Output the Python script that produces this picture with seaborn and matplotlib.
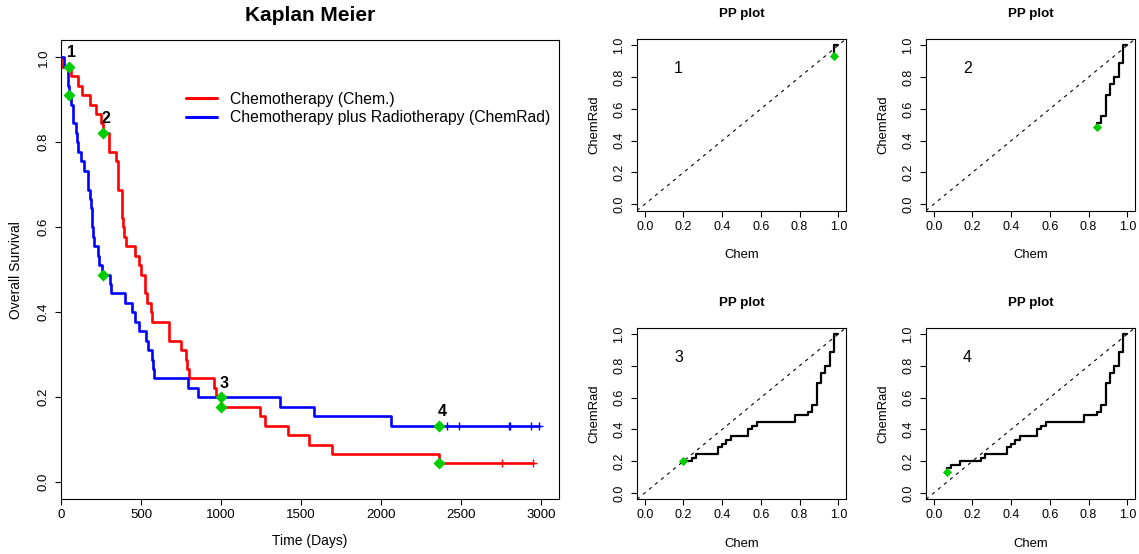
import numpy as np
import pandas as pd
import matplotlib
matplotlib.use("Agg")
import matplotlib.pyplot as plt
import seaborn as sns
from matplotlib.lines import Line2D

# ---------------- data ----------------
chem_times = [1, 63, 105, 129, 182, 216, 250, 262, 301, 301, 342, 354, 356, 358,
              380, 383, 383, 388, 394, 408, 460, 489, 499, 523, 524, 535, 562,
              569, 675, 676, 748, 778, 786, 797, 955, 968, 1000, 1245, 1271,
              1420, 1551, 1694, 2363, 2754, 2950]
chem_events = [1] * 43 + [0, 0]
rad_times = [17, 42, 44, 48, 60, 72, 74, 95, 103, 108, 122, 144, 167, 170, 183,
             185, 193, 195, 197, 208, 234, 235, 254, 307, 315, 401, 445, 464,
             484, 528, 542, 567, 577, 580, 795, 855, 1366, 1577, 2060, 2412,
             2486, 2796, 2802, 2934, 2988]
rad_events = [1] * 39 + [0] * 6
group_labels = ["Chemotherapy (Chem.)", "Chemotherapy plus Radiotherapy (ChemRad)"]
group_colors = ["#FF0000", "#0000FF"]
marker_times = [48, 262, 1000, 2363]
marker_labels = ["1", "2", "3", "4"]
km_xticks = [0, 500, 1000, 1500, 2000, 2500, 3000]
unit_ticks = [0.0, 0.2, 0.4, 0.6, 0.8, 1.0]

GREEN = "#00CD00"
W, H = 1139, 554


def km_curve(times, events):
    t = np.asarray(times, float)
    e = np.asarray(events)
    at_risk = len(t)
    s = 1.0
    xs, ys = [0.0], [1.0]
    for u in np.unique(t):
        d = int(((t == u) & (e == 1)).sum())
        c = int(((t == u) & (e == 0)).sum())
        if d > 0:
            s *= 1 - d / at_risk
            xs.append(u)
            ys.append(s)
        at_risk -= d + c
    xs.append(t.max())
    ys.append(s)
    return np.array(xs), np.array(ys)


def surv_at(curve, t, left=False):
    xs, ys = curve
    idx = np.searchsorted(xs, t, side="left" if left else "right") - 1
    return ys[max(idx, 0)]


chem_curve = km_curve(chem_times, chem_events)
rad_curve = km_curve(rad_times, rad_events)

sns.set_theme(style="ticks")
plt.rcParams["font.family"] = ["Liberation Sans", "DejaVu Sans"]
plt.rcParams.update({
    "axes.linewidth": 0.8, "axes.edgecolor": "black",
    "xtick.major.size": 4.3, "ytick.major.size": 4.3,
    "xtick.major.width": 0.8, "ytick.major.width": 0.8,
    "xtick.color": "black", "ytick.color": "black",
    "axes.labelcolor": "black", "text.color": "black",
    "axes.grid": False,
})

fig = plt.figure(figsize=(W / 100, H / 100), dpi=100)


def box(left, top, right, bottom):
    return [left / W, 1 - bottom / H, (right - left) / W, (bottom - top) / H]


# ---------------- Kaplan-Meier ----------------
ax = fig.add_axes(box(61, 40.3, 558.7, 499.3))
rows = []
for lab, cur in zip(group_labels, [chem_curve, rad_curve]):
    for x, y in zip(*cur):
        rows.append({"time": x, "surv": y, "group": lab})
km_df = pd.DataFrame(rows)
sns.lineplot(data=km_df, x="time", y="surv", hue="group", hue_order=group_labels,
             palette=group_colors, estimator=None, sort=False,
             drawstyle="steps-post", lw=1.9, legend=False, ax=ax)

# censor marks
for times, events, cur, col in [(chem_times, chem_events, chem_curve, group_colors[0]),
                                (rad_times, rad_events, rad_curve, group_colors[1])]:
    ct = [t for t, e in zip(times, events) if e == 0]
    cs = [surv_at(cur, t) for t in ct]
    sns.scatterplot(x=ct, y=cs, marker="+", s=40, color=col, linewidth=1.0, ax=ax,
                    legend=False)

# green markers and numbers
for t, lab in zip(marker_times, marker_labels):
    yc = surv_at(chem_curve, t)
    yr = surv_at(rad_curve, t)
    sns.scatterplot(x=[t, t], y=[yc, yr], marker="D", s=38, color=GREEN,
                    linewidth=0, ax=ax, legend=False, zorder=5)
    ax.annotate(lab, xy=(t, max(yc, yr)), xytext=(3, 14), textcoords="offset pixels",
                ha="center", va="center", fontweight="bold", fontsize=11.5)

ax.set_xlim(0, 3108)
ax.set_ylim(-0.04, 1.04)
ax.set_xticks(km_xticks, labels=[str(v) for v in km_xticks], fontsize=9.5)
ax.set_yticks(unit_ticks, labels=[f"{v:.1f}" for v in unit_ticks], rotation=90,
              va="center", fontsize=9.5)
ax.tick_params(axis="x", pad=3)
ax.tick_params(axis="y", pad=4)
ax.set_xlabel("Time (Days)", fontsize=10)
ax.set_ylabel("Overall Survival", fontsize=10)
ax.xaxis.set_label_coords(0.5, -0.0917)
ax.yaxis.set_label_coords(-0.0914, 0.5)
ax.xaxis.label.set_va("center")
ax.yaxis.label.set_va("center")
ax.text(0.5, 1.0551, "Kaplan Meier", transform=ax.transAxes, ha="center",
        va="center", fontweight="bold", fontsize=15)

handles = [Line2D([], [], color=c, lw=2.2) for c in group_colors]
ax.legend(handles, group_labels, loc="upper left", bbox_to_anchor=(0.251, 0.888),
          bbox_transform=ax.transAxes, frameon=False, borderpad=0,
          borderaxespad=0, handlelength=2.0, handletextpad=0.8,
          labelspacing=0.22, fontsize=11.3)

# ---------------- PP plots ----------------
all_times = np.unique(np.concatenate([chem_times, rad_times]))
pp_boxes = [(637, 39, 846, 210.6), (926, 39, 1135, 210.6),
            (637, 327.7, 846, 499.3), (926, 327.7, 1135, 499.3)]
for (l, t_, r, b), tk, lab in zip(pp_boxes, marker_times, marker_labels):
    pax = fig.add_axes(box(l, t_, r, b))
    px, py = [1.0], [1.0]
    for u in all_times[all_times < tk]:
        px.append(surv_at(chem_curve, u))
        py.append(surv_at(rad_curve, u))
    pax.plot([-0.04, 1.04], [-0.04, 1.04], ls=(0, (3, 4)), color="black", lw=0.8)
    sns.lineplot(x=px, y=py, sort=False, estimator=None, color="black", lw=1.6,
                 ax=pax)
    sns.scatterplot(x=[px[-1]], y=[py[-1]], marker="D", s=22, color=GREEN,
                    linewidth=0, ax=pax, zorder=5, legend=False)
    pax.set_xlim(-0.04, 1.04)
    pax.set_ylim(-0.04, 1.04)
    pax.set_xticks(unit_ticks, labels=[f"{v:.1f}" for v in unit_ticks], fontsize=9)
    pax.set_yticks(unit_ticks, labels=[f"{v:.1f}" for v in unit_ticks], rotation=90,
                   va="center", fontsize=9)
    pax.tick_params(axis="x", pad=3)
    pax.tick_params(axis="y", pad=4)
    pax.set_xlabel("Chem", fontsize=9.4)
    pax.set_ylabel("ChemRad", fontsize=9.4)
    pax.xaxis.set_label_coords(0.5, -0.259)
    pax.yaxis.set_label_coords(-0.206, 0.5)
    pax.xaxis.label.set_va("center")
    pax.yaxis.label.set_va("center")
    pax.text(0.5, 1.146, "PP plot", transform=pax.transAxes, ha="center",
             va="center", fontweight="bold", fontsize=9.6)
    pax.text(0.175, 0.855, lab, ha="center", va="center", fontsize=11.5)

fig.savefig("out.png", dpi=100)
